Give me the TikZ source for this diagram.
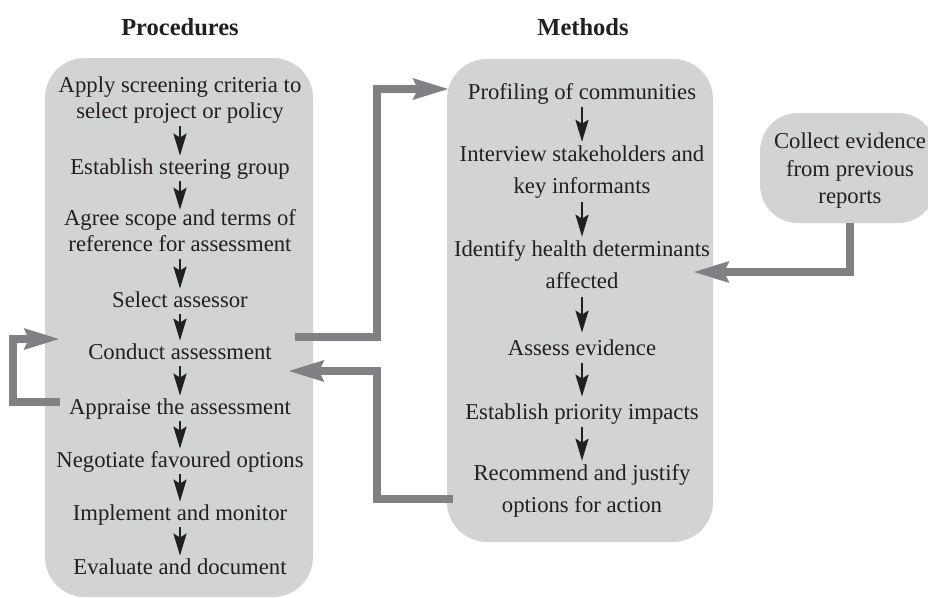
\documentclass[tikz,border=0pt]{standalone}
\usepackage{fontspec}
\setmainfont{Liberation Serif}
\usetikzlibrary{arrows.meta}
\definecolor{boxgray}{HTML}{D2D3D5}
\definecolor{conngray}{HTML}{808184}
\definecolor{txt}{HTML}{231F20}
\newcommand\mystrut{\rule[-7.8pt]{0pt}{26pt}}
\tikzset{
  panel/.style={fill=boxgray, draw=none},
  stepl/.style={inner sep=0pt, align=center, text=txt,
    font=\fontsize{22.7}{26}\selectfont,
    execute at begin node=\mystrut, execute at end node=\mystrut},
  stepr/.style={stepl, font=\fontsize{22.7}{32}\selectfont},
  stepe/.style={stepl, font=\fontsize{22.7}{27.5}\selectfont},
  title/.style={inner sep=0pt, anchor=base, text=txt, font=\fontsize{24.5}{28}\selectfont\bfseries},
  blk/.style={draw=txt, line width=2.6pt, -{Stealth[length=22pt,width=13pt,inset=4pt]}},
  blkl/.style={blk, shorten <=-1pt, shorten >=0pt},
  blkr/.style={blk, shorten <=0pt, shorten >=4pt},
  gconn/.style={draw=conngray, line width=7.5pt, line join=miter, line cap=butt,
    -{Stealth[length=35pt,width=20pt,inset=4pt]}}
}
\begin{document}
\begin{tikzpicture}[x=1pt,y=-1pt]
\useasboundingbox (0,0) rectangle (928,597);
% panels
\fill[panel, rounded corners=40pt] (45,58) rectangle (313,597);
\fill[panel, rounded corners=40pt] (447,59) rectangle (713,542);
\fill[panel, rounded corners=38pt] (760,113) rectangle (936,223);
% titles
\node[title] (tproc) at (180,35) {Procedures};
\node[title] (tmeth) at (583,35) {Methods};
% procedures
\node[stepl] (apply) at (180,101.8) {Apply screening criteria to\\select project or policy};
\node[stepl] (steer) at (180,168.8) {Establish steering group};
\node[stepl] (agree) at (180,234.8) {Agree scope and terms of\\reference for assessment};
\node[stepl] (select) at (180,301.8) {Select assessor};
\node[stepl] (conduct) at (180,353.8) {Conduct assessment};
\node[stepl] (appraise) at (180,408.8) {Appraise the assessment};
\node[stepl] (negot) at (180,461.8) {Negotiate favoured options};
\node[stepl] (implement) at (180,514.8) {Implement and monitor};
\node[stepl] (evaluate) at (180,568.8) {Evaluate and document};
% methods
\node[stepr] (profiling) at (582,93.8) {Profiling of communities};
\node[stepr] (interview) at (582,173.8) {Interview stakeholders and\\key informants};
\node[stepr] (identify) at (582,268.8) {Identify health determinants\\affected};
\node[stepr] (assess) at (582,349.8) {Assess evidence};
\node[stepr] (priority) at (582,413.8) {Establish priority impacts};
\node[stepr] (recommend) at (582,492.8) {Recommend and justify\\options for action};
% evidence
\node[stepe] (collect) at (850,172.3) {Collect evidence\\from previous\\reports};
% black arrows
\draw[blkl] (apply.south) -- (steer.north);
\draw[blkl] (steer.south) -- (agree.north);
\draw[blkl] (agree.south) -- (select.north);
\draw[blkl] (select.south) -- (conduct.north);
\draw[blkl] (conduct.south) -- (appraise.north);
\draw[blkl] (appraise.south) -- (negot.north);
\draw[blkl] (negot.south) -- (implement.north);
\draw[blkl] (implement.south) -- (evaluate.north);
\draw[blkr] (profiling.south) -- (interview.north);
\draw[blkr] (interview.south) -- (identify.north);
\draw[blkr] (identify.south) -- (assess.north);
\draw[blkr] (assess.south) -- (priority.north);
\draw[blkr] (priority.south) -- (recommend.north);
% gray connectors
\coordinate (outstart) at (295,337);
\coordinate (outbend) at (377,337);
\coordinate (outtip) at (449,89);
\draw[gconn] (outstart) -- (outbend) |- (outtip);
\coordinate (backstart) at (453,499);
\coordinate (backbend) at (377,499);
\coordinate (backtip) at (288,371);
\draw[gconn] (backstart) -- (backbend) |- (backtip);
\coordinate (loopstart) at (60,402);
\coordinate (loopbend) at (13,402);
\coordinate (looptip) at (60,339);
\draw[gconn] (loopstart) -- (loopbend) |- (looptip);
\coordinate (evstart) at (850,223);
\coordinate (evtip) at (693,272);
\draw[gconn] (evstart) |- (evtip);
\end{tikzpicture}
\end{document}
